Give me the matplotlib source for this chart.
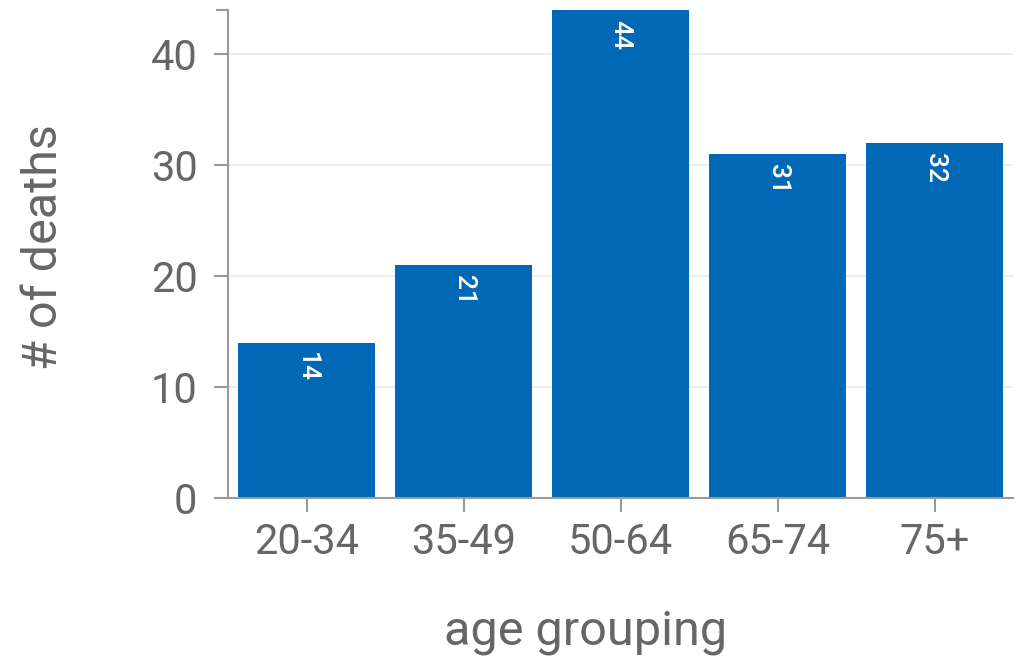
import matplotlib.pyplot as plt
import numpy as np

# data
age_groups = ['20-34', '35-49', '50-64', '65-74', '75+']
deaths = [14, 21, 44, 31, 32]
y_ticks = [0, 10, 20, 30, 40]

plt.rcParams['font.family'] = ['Roboto', 'DejaVu Sans']

bar_color = '#0068b4'
text_gray = '#666666'
axis_gray = '#999999'

fig = plt.figure(figsize=(10.17, 6.64), dpi=100)
ax = fig.add_axes([0.2242, 0.25, 0.772, 0.735])

x = np.arange(len(age_groups))
bars = ax.bar(x, deaths, width=0.873, color=bar_color, zorder=2)

# value labels, rotated, just below the top of each bar
for xi, val in zip(x, deaths):
    ax.annotate(str(val), xy=(xi, val), xytext=(0, -7), textcoords='offset points',
                rotation=270, ha='center', va='top', color='white',
                fontsize=19, fontweight='medium')

ax.set_xlim(-0.5, len(age_groups) - 0.5)
ax.set_ylim(0, 44)
ax.set_xticks(x)
ax.set_xticklabels(age_groups)
ax.set_yticks(y_ticks)

ax.grid(axis='y', color='#eeeeee', linewidth=1.5, zorder=0)
ax.set_axisbelow(True)

for s in ['top', 'right']:
    ax.spines[s].set_visible(False)
ax.spines['left'].set_color(axis_gray)
ax.spines['bottom'].set_color(axis_gray)
ax.spines['left'].set_linewidth(1.5)
ax.spines['bottom'].set_linewidth(1.5)

ax.tick_params(axis='both', colors=axis_gray, labelcolor=text_gray,
               labelsize=30, length=10, width=1.5)
ax.tick_params(axis='y', pad=12)
ax.tick_params(axis='x', pad=7)

# small outer tick at the top of the y axis
ax.plot([-0.5, -0.5 - 0.07], [44, 44], color=axis_gray, lw=1.5, clip_on=False)

ax.set_xlabel('age grouping', fontsize=35, color=text_gray)
ax.xaxis.set_label_coords(0.4555, -0.228)
ax.set_ylabel('# of deaths', fontsize=35, color=text_gray)
ax.yaxis.set_label_coords(-0.205, 0.515)

fig.savefig('out.png', dpi=100)
